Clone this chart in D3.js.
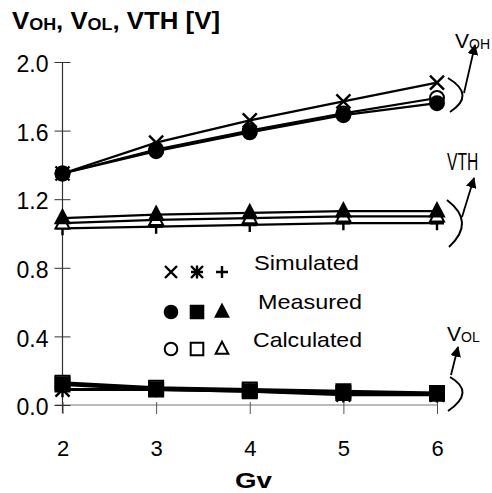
<!DOCTYPE html>
<html>
<head>
<meta charset="utf-8">
<script src="https://cdn.jsdelivr.net/npm/d3@7"></script>
<style>
  body { margin: 0; background: #fff; }
  text { font-family: "Liberation Sans", Arial, sans-serif; fill: #000; }
</style>
</head>
<body>
<script>
// gain values on the x axis
const gv = [2, 3, 4, 5, 6];
const yTicks = [0.0, 0.4, 0.8, 1.2, 1.6, 2.0];

// V_OH
const vohSim = [1.35, 1.53, 1.66, 1.77, 1.88];
const vohMeas = [1.35, 1.48, 1.59, 1.69, 1.76];
const vohCalc = [1.35, 1.49, 1.60, 1.70, 1.79];
// VTH
const vthSim = [1.03, 1.04, 1.05, 1.06, 1.06];
const vthMeas = [1.09, 1.11, 1.12, 1.13, 1.13];
const vthCalc = [1.06, 1.08, 1.09, 1.10, 1.10];
// V_OL
const volSim = [0.09, 0.09, 0.08, 0.06, 0.06];
const volMeas = [0.12, 0.09, 0.08, 0.07, 0.065];
const volCalc = [0.13, 0.10, 0.09, 0.08, 0.07];

const legendRows = ["Simulated", "Measured", "Calculated"];

let svg, x, y;

setupSvg();
setupScales();
appendAxes();
appendSeries();
appendLegend();
appendAnnotations();

function setupSvg() {
  svg = d3.select("body").append("svg")
    .attr("width", 492)
    .attr("height", 493);
}

function setupScales() {
  x = d3.scaleLinear().domain([2, 6]).range([62.5, 437]);
  y = d3.scaleLinear().domain([0, 2]).range([405, 62]);
}

function appendAxes() {
  // title
  const t = svg.append("text").attr("x", 12).attr("y", 29)
    .attr("font-weight", "bold").attr("font-size", 23)
    .attr("textLength", 208).attr("lengthAdjust", "spacingAndGlyphs");
  t.append("tspan").text("V");
  t.append("tspan").attr("font-size", 16).attr("dy", 1).text("OH");
  t.append("tspan").attr("dy", -1).text(", V");
  t.append("tspan").attr("font-size", 16).attr("dy", 1).text("OL");
  t.append("tspan").attr("dy", -1).text(", VTH [V]");

  // x axis
  const gx = svg.append("g").attr("transform", `translate(0, ${y(0)})`)
    .call(d3.axisBottom(x).tickValues(gv).tickFormat(d3.format("d")).tickSizeOuter(0));
  gx.select(".domain").attr("d", `M55,0H${x(6)}`).attr("stroke", "#777").attr("stroke-width", 1);
  gx.selectAll(".tick line").attr("y1", -3).attr("y2", 9).attr("stroke", "#555");
  gx.selectAll(".tick text").attr("y", 51).attr("dy", 0)
    .attr("font-size", 22).attr("font-family", "Liberation Sans, Arial, sans-serif");

  svg.append("text").attr("x", 235).attr("y", 488)
    .attr("font-weight", "bold").attr("font-size", 22)
    .attr("textLength", 37).attr("lengthAdjust", "spacingAndGlyphs").text("Gv");

  // y axis
  const gy = svg.append("g").attr("transform", `translate(${x(2)}, 0)`)
    .call(d3.axisLeft(y).tickValues(yTicks).tickFormat(d3.format(".1f")).tickSizeOuter(0));
  gy.select(".domain").attr("d", `M0,${y(2)}V413`).attr("stroke", "#333").attr("stroke-width", 1.2);
  gy.selectAll(".tick line").attr("x1", -8).attr("x2", 8).attr("stroke", "#333");
  gy.selectAll(".tick text").attr("x", -14).attr("dy", "0.42em")
    .attr("font-size", 23).attr("font-family", "Liberation Sans, Arial, sans-serif");
}

// marker path builders, size s = half width
function markerPath(kind, s) {
  const p = d3.path();
  if (kind === "circle") {
    p.arc(0, 0, s, 0, 2 * Math.PI);
  } else if (kind === "square") {
    p.rect(-s, -s, 2 * s, 2 * s);
  } else if (kind === "triangle") {
    p.moveTo(0, -s * 1.15); p.lineTo(s, s * 0.75); p.lineTo(-s, s * 0.75); p.closePath();
  } else if (kind === "times") {
    p.moveTo(-s, -s); p.lineTo(s, s); p.moveTo(s, -s); p.lineTo(-s, s);
  } else if (kind === "plus") {
    p.moveTo(-s, 0); p.lineTo(s, 0); p.moveTo(0, -s); p.lineTo(0, s);
  } else if (kind === "asterisk") {
    p.moveTo(-s, -s); p.lineTo(s, s); p.moveTo(s, -s); p.lineTo(-s, s);
    p.moveTo(-s, 0); p.lineTo(s, 0); p.moveTo(0, -s * 1.1); p.lineTo(0, s * 1.1);
  }
  return p.toString();
}

function drawMarker(g, kind, fill, cx, cy, s) {
  const filled = fill === "filled";
  const stroked = ["times", "plus", "asterisk"].includes(kind);
  g.append("path")
    .attr("d", markerPath(kind, s))
    .attr("transform", `translate(${cx}, ${cy})`)
    .attr("fill", stroked ? "none" : (filled ? "#000" : "#fff"))
    .attr("stroke", "#000")
    .attr("stroke-width", stroked ? 2.4 : 2);
}

function appendSeries() {
  const series = [
    { v: vohCalc, kind: "circle", fill: "open", w: 2.2 },
    { v: vohMeas, kind: "circle", fill: "filled", w: 2.2 },
    { v: vohSim, kind: "times", fill: "none", w: 2.2 },
    { v: vthSim, kind: "plus", fill: "none", w: 2.2 },
    { v: vthCalc, kind: "triangle", fill: "open", w: 2.2 },
    { v: vthMeas, kind: "triangle", fill: "filled", w: 2.2 },
    { v: volCalc, kind: "square", fill: "open", w: 3 },
    { v: volSim, kind: "asterisk", fill: "none", w: 3 },
    { v: volMeas, kind: "square", fill: "filled", w: 3 }
  ];

  const line = d3.line().x((d, i) => x(gv[i])).y(d => y(d));

  series.forEach(s => {
    svg.append("path").datum(s.v)
      .attr("d", line)
      .attr("fill", "none")
      .attr("stroke", "#000")
      .attr("stroke-width", s.w);
  });

  const mg = svg.append("g");
  series.forEach(s => {
    s.v.forEach((d, i) => drawMarker(mg, s.kind, s.fill, x(gv[i]), y(d), 7));
  });
}

function appendLegend() {
  const kinds = [
    ["times", "asterisk", "plus"],
    ["circle", "square", "triangle"],
    ["circle", "square", "triangle"]
  ];
  const fills = ["none", "filled", "open"];
  const rowY = [272, 312, 349];
  const textY = [270, 309, 347];
  const textX = [254, 258, 253];
  const colX = [171, 197, 222];
  const lg = svg.append("g");
  legendRows.forEach((name, r) => {
    kinds[r].forEach((k, c) => {
      const s = r === 0 ? 6 : 6.3;
      drawMarker(lg, k, fills[r], colX[c], rowY[r], s);
    });
    lg.append("text").attr("x", textX[r]).attr("y", textY[r])
      .attr("font-size", 21)
      .attr("textLength", r === 2 ? 109 : (r === 1 ? 104 : 105))
      .attr("lengthAdjust", "spacingAndGlyphs")
      .text(name);
  });
}

function appendAnnotations() {
  const defs = svg.append("defs");
  defs.append("marker").attr("id", "ah")
    .attr("viewBox", "0 0 10 10").attr("refX", 9).attr("refY", 5)
    .attr("markerWidth", 6).attr("markerHeight", 6).attr("orient", "auto")
    .append("path").attr("d", "M0,0L10,5L0,10Z").attr("fill", "#000");

  const ag = svg.append("g").attr("fill", "none").attr("stroke", "#000").attr("stroke-width", 2);
  const braces = [
    { d: "M448,78Q476,95 450,112", a: [464, 93, 475, 45] },
    { d: "M447,200Q476,222 449,247", a: [462, 217, 474, 178] },
    { d: "M450,377Q476,392 448,411", a: [451, 375, 458, 347] }
  ];
  braces.forEach(b => {
    ag.append("path").attr("d", b.d);
    ag.append("line").attr("x1", b.a[0]).attr("y1", b.a[1])
      .attr("x2", b.a[2]).attr("y2", b.a[3]).attr("stroke-width", 1.8)
      .attr("marker-end", "url(#ah)");
  });

  const l1 = svg.append("text").attr("x", 455).attr("y", 48).attr("font-size", 21);
  l1.append("tspan").text("V");
  l1.append("tspan").attr("font-size", 14).attr("dy", 1).text("OH");

  // narrow VTH label, squeezed horizontally like the scan
  svg.append("text").attr("transform", "translate(447, 170) scale(0.68, 1)")
    .attr("font-size", 23).text("VTH");

  const l3 = svg.append("text").attr("x", 447).attr("y", 341).attr("font-size", 21);
  l3.append("tspan").text("V");
  l3.append("tspan").attr("font-size", 14).attr("dy", 1).text("OL");
}
</script>
</body>
</html>
